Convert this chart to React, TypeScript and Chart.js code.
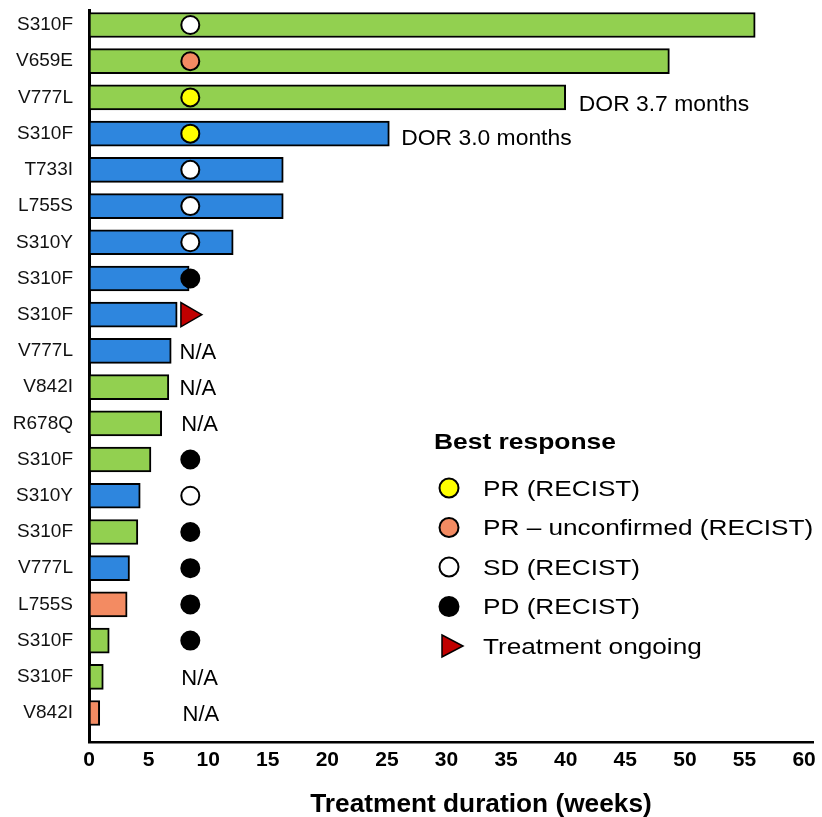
import React, { useEffect, useRef } from 'react';
import { Chart, registerables } from 'chart.js';

Chart.register(...registerables);

const FONT = "'Liberation Sans', Arial, Helvetica, sans-serif";

// ---- data ----
const mutations = ['S310F', 'V659E', 'V777L', 'S310F', 'T733I', 'L755S', 'S310Y', 'S310F', 'S310F', 'V777L', 'V842I', 'R678Q', 'S310F', 'S310Y', 'S310F', 'V777L', 'L755S', 'S310F', 'S310F', 'V842I'];
const durationWeeks = [55.9, 48.7, 40.0, 25.2, 16.3, 16.3, 12.1, 8.4, 7.4, 6.9, 6.7, 6.1, 5.2, 4.3, 4.1, 3.4, 3.2, 1.7, 1.2, 0.9];
const barGroup = ['green', 'green', 'green', 'blue', 'blue', 'blue', 'blue', 'blue', 'blue', 'blue', 'green', 'green', 'green', 'blue', 'green', 'blue', 'orange', 'green', 'green', 'orange'];
const bestResponse = ['SD', 'PRu', 'PR', 'PR', 'SD', 'SD', 'SD', 'PD', 'ONGOING', 'NA', 'NA', 'NA', 'PD', 'SD', 'PD', 'PD', 'PD', 'PD', 'NA', 'NA'];
const assessmentWeek = 8.5;
const ongoingWeek = 8.3;
const xTickValues = [0, 5, 10, 15, 20, 25, 30, 35, 40, 45, 50, 55, 60];

const naRows = [9, 10, 11, 18, 19];
const naWeeks = [7.6, 7.6, 7.75, 7.75, 7.85];
const dorTexts = ['DOR 3.7 months', 'DOR 3.0 months'];
const dorRows = [2.155, 3.09];
const dorWeeks = [41.1, 26.2];

const legendTitle = 'Best response';
const legendKeys = ['PR', 'PRu', 'SD', 'PD', 'ONGOING'];
const legendLabels = ['PR (RECIST)', 'PR – unconfirmed (RECIST)', 'SD (RECIST)', 'PD (RECIST)', 'Treatment ongoing'];
const xTitle = 'Treatment duration (weeks)';

// ---- styles ----
const groupColors: Record<string, string> = { green: '#92D050', blue: '#2E86DE', orange: '#F38B62' };
const responseFill: Record<string, string> = { PR: '#FFFF00', PRu: '#F38B62', SD: '#FFFFFF', PD: '#000000', ONGOING: '#C00000' };

function drawText(ctx: CanvasRenderingContext2D, text: string, x: number, baseline: number, font: string, sx: number, align: CanvasTextAlign = 'left') {
  ctx.save();
  ctx.font = font;
  ctx.fillStyle = '#000';
  ctx.textAlign = align;
  ctx.textBaseline = 'alphabetic';
  ctx.translate(x, baseline);
  ctx.scale(sx, 1);
  ctx.fillText(text, 0, 0);
  ctx.restore();
}

const overlayPlugin = {
  id: 'overlay',
  afterDatasetsDraw(chart: any) {
    const ctx: CanvasRenderingContext2D = chart.ctx;
    const xs = chart.scales.x;
    const ys = chart.scales.y;
    // N/A labels
    naRows.forEach((r, i) => {
      const size = 22;
      drawText(ctx, 'N/A', xs.getPixelForValue(naWeeks[i]), ys.getPixelForValue(r) + 0.358 * size, `${size}px ${FONT}`, 1.0);
    });
    // DOR labels
    dorTexts.forEach((t, i) => {
      const size = 22;
      drawText(ctx, t, xs.getPixelForValue(dorWeeks[i]), ys.getPixelForValue(dorRows[i]) + 0.358 * size, `${size}px ${FONT}`, 1.04);
    });
    // legend
    const lx = 434;
    drawText(ctx, legendTitle, lx, 449, `bold 22px ${FONT}`, 1.2);
    legendKeys.forEach((k, i) => {
      const cy = 488 + i * 39.5;
      const mx = 449;
      ctx.save();
      ctx.lineWidth = 2;
      ctx.strokeStyle = '#000';
      ctx.fillStyle = responseFill[k];
      ctx.beginPath();
      if (k === 'ONGOING') {
        ctx.lineWidth = 1.5;
        ctx.moveTo(mx - 7, cy - 11);
        ctx.lineTo(mx + 14, cy);
        ctx.lineTo(mx - 7, cy + 11);
        ctx.closePath();
      } else {
        ctx.arc(mx, cy, 9.5, 0, Math.PI * 2);
      }
      ctx.fill();
      ctx.stroke();
      ctx.restore();
      drawText(ctx, legendLabels[i], 483, cy + 7.8, `22px ${FONT}`, 1.19);
    });
    // x title
    drawText(ctx, xTitle, 481, 812, `bold 26px ${FONT}`, 1.01, 'center');
  },
};

export default function App() {
  const ref = useRef<HTMLCanvasElement | null>(null);

  useEffect(() => {
    if (!ref.current) return;
    const rows = mutations.map((_, i) => i);
    const scatterSets = ['PR', 'PRu', 'SD', 'PD'].map((k) => ({
      type: 'scatter' as const,
      label: k,
      data: rows.filter((i) => bestResponse[i] === k).map((i) => ({ x: assessmentWeek, y: i })),
      pointStyle: 'circle',
      pointRadius: 9,
      pointBorderWidth: 2,
      pointBackgroundColor: responseFill[k],
      pointBorderColor: '#000',
      showLine: false,
      order: 1,
      xAxisID: 'x',
      yAxisID: 'y',
    }));
    const ongoingSet = {
      type: 'scatter' as const,
      label: 'ONGOING',
      data: rows.filter((i) => bestResponse[i] === 'ONGOING').map((i) => ({ x: ongoingWeek, y: i })),
      pointStyle: 'triangle',
      rotation: 90,
      pointRotation: 90,
      pointRadius: 14,
      pointBorderWidth: 1.5,
      pointBackgroundColor: responseFill.ONGOING,
      pointBorderColor: '#000',
      showLine: false,
      order: 1,
      xAxisID: 'x',
      yAxisID: 'y',
    };

    const chart = new Chart(ref.current, {
      type: 'bar',
      data: {
        datasets: [
          {
            type: 'bar',
            label: 'duration',
            indexAxis: 'y',
            data: rows.map((i) => ({ x: durationWeeks[i], y: i })),
            backgroundColor: rows.map((i) => groupColors[barGroup[i]]),
            borderColor: '#000',
            borderWidth: 2,
            borderSkipped: false,
            barThickness: 25,
            order: 2,
            xAxisID: 'x',
            yAxisID: 'y',
          } as any,
          ...(scatterSets as any[]),
          ongoingSet as any,
        ],
      },
      options: {
        animation: false,
        responsive: false,
        indexAxis: 'y',
        layout: { autoPadding: false, padding: { left: 0, right: 9, top: 10, bottom: 0 } },
        plugins: { legend: { display: false }, tooltip: { enabled: false } },
        scales: {
          x: {
            type: 'linear',
            position: 'bottom',
            offset: false,
            min: 0,
            max: 60.75,
            afterBuildTicks: (scale: any) => {
              scale.ticks = xTickValues.map((v) => ({ value: v }));
            },
            afterFit: (scale: any) => {
              scale.height = 75;
              scale.paddingLeft = 0;
              scale.paddingRight = 0;
            },
            grid: { display: false, drawTicks: false, offset: false },
            border: { display: true, color: '#000', width: 2.5 },
            ticks: {
              padding: 6,
              color: '#000',
              font: { family: FONT, size: 21, weight: 'bold' },
              maxRotation: 0,
              autoSkip: false,
              callback: (v: any) => String(v),
            },
          },
          y: {
            type: 'linear',
            position: 'left',
            offset: false,
            reverse: true,
            min: -0.414,
            max: 19.8,
            afterBuildTicks: (scale: any) => {
              scale.ticks = mutations.map((_, i) => ({ value: i }));
            },
            afterFit: (scale: any) => {
              scale.width = 89;
              scale.paddingTop = 0;
              scale.paddingBottom = 0;
            },
            grid: { display: false, drawTicks: false, offset: false },
            border: { display: true, color: '#000', width: 3 },
            ticks: {
              padding: 16,
              color: '#111',
              autoSkip: false,
              font: { family: FONT, size: 19 },
              callback: (v: any) => mutations[Math.round(Number(v))] ?? '',
            },
          },
        },
      } as any,
      plugins: [overlayPlugin],
    });
    return () => chart.destroy();
  }, []);

  return (
    <div style={{ position: 'fixed', left: 0, top: 0, width: 822, height: 817, background: '#fff' }}>
      <canvas ref={ref} width={822} height={817} style={{ display: 'block', width: 822, height: 817 }} />
    </div>
  );
}
